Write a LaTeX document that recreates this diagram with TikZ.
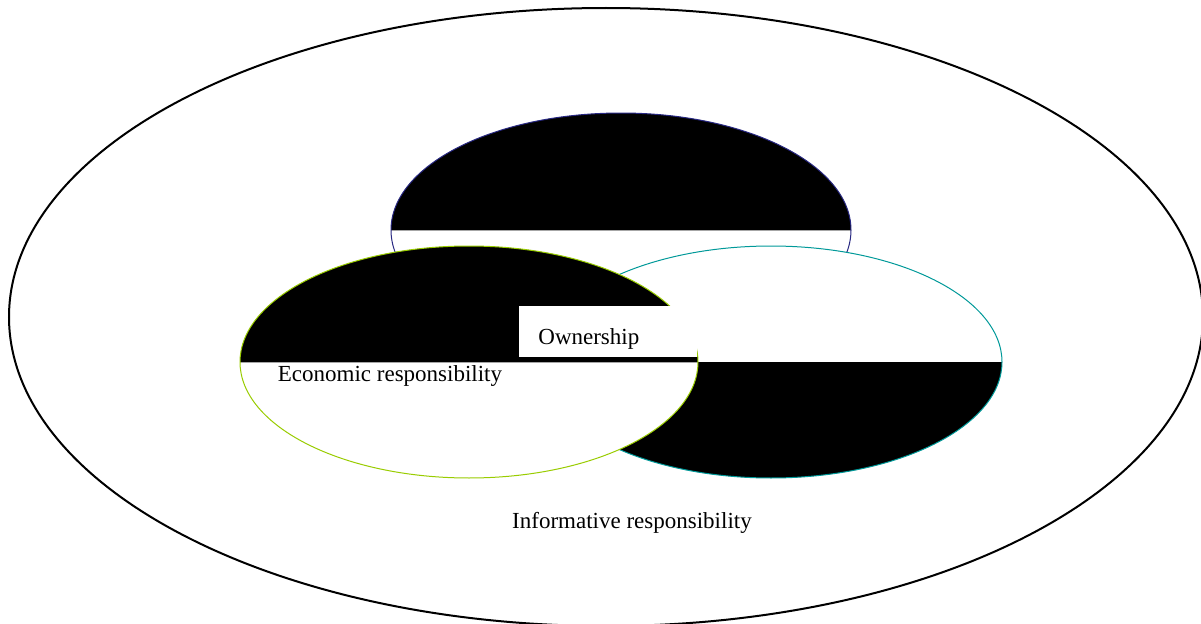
\documentclass[tikz,border=0pt]{standalone}
\usepackage{fontspec}
\setmainfont{Liberation Serif}
\definecolor{ringnavy}{RGB}{40,40,130}
\definecolor{ringlime}{RGB}{153,204,0}
\definecolor{ringteal}{RGB}{0,153,153}
\begin{document}
\begin{tikzpicture}[x=0.5pt, y=0.5pt, every node/.style={font=\fontsize{11.5}{14}\selectfont, inner sep=0pt},
    ring/.style={line width=0.5pt}, split/.style={gray!70, line width=0.5pt}]
    \clip (0,0) rectangle (1201,623);
    % outer ring
    \draw[line width=1pt] (606,306) ellipse [x radius=597, y radius=309];
    % top ring
    \fill[white] (621,393) ellipse [x radius=230, y radius=117];
    \fill (391,393) arc [start angle=180, end angle=0, x radius=230, y radius=117] -- cycle;
    \draw[split] (391,393) -- (851,393);
    \draw[ring, ringnavy] (621,393) ellipse [x radius=230, y radius=117];
    % right ring
    \fill[white] (771,261) ellipse [x radius=231, y radius=116];
    \fill (540,261) arc [start angle=180, end angle=360, x radius=231, y radius=116] -- cycle;
    \draw[ring, ringteal] (771,261) ellipse [x radius=231, y radius=116];
    % left ring
    \fill[white] (469,261) ellipse [x radius=229, y radius=116];
    \fill (240,261) arc [start angle=180, end angle=0, x radius=229, y radius=116] -- cycle;
    \draw[split] (240,261) -- (698,261);
    \draw[ring, ringlime] (469,261) ellipse [x radius=229, y radius=116];
    % labels
    \node[fill=white, minimum width=89pt, minimum height=25.5pt, anchor=north west] (ownbox) at (519,317) {};
    \node[anchor=west] (own) at (538,284.5) {Ownership};
    \node (eco) at (390,246.5) {Economic responsibility};
    \node (info) at (632,100.5) {Informative responsibility};
\end{tikzpicture}
\end{document}
